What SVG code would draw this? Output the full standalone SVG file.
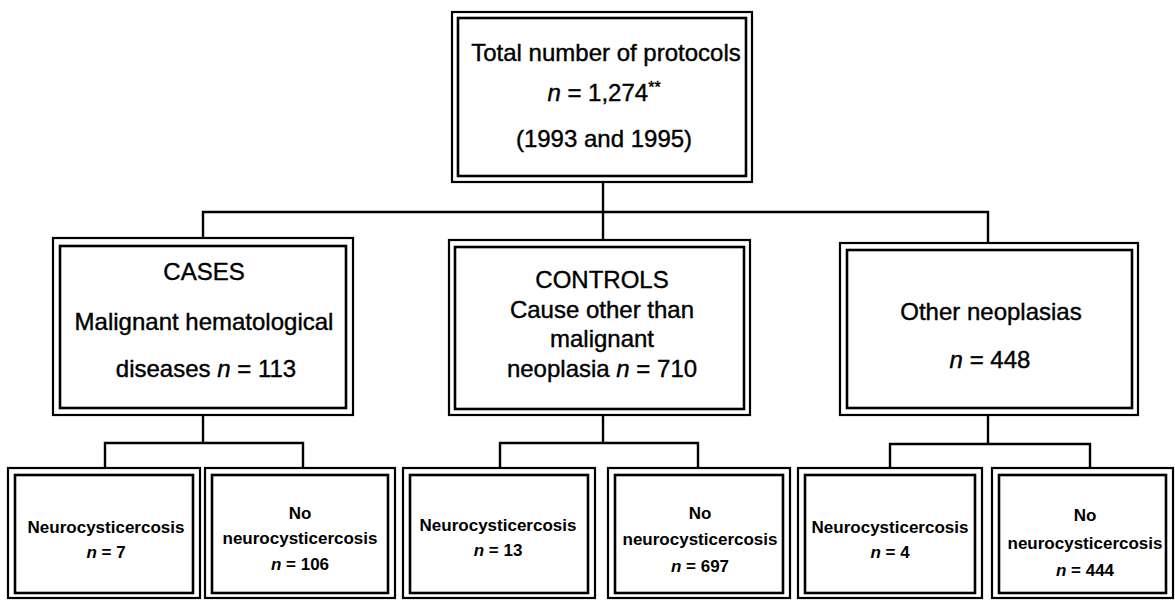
<svg xmlns="http://www.w3.org/2000/svg" width="1175" height="600" viewBox="0 0 1175 600">
<style>
.o{fill:none;stroke:#000;stroke-width:2.2}
.i{fill:none;stroke:#000;stroke-width:2.6}
.c{fill:none;stroke:#000;stroke-width:2.4}
.t{font-family:"Liberation Sans",Arial,sans-serif;font-size:24px;fill:#000;stroke:#000;stroke-width:0.4;text-anchor:middle}
.s{font-family:"Liberation Sans",Arial,sans-serif;font-size:17px;font-weight:bold;fill:#000;text-anchor:middle}
.it{font-style:italic}
</style>
<rect width="1175" height="600" fill="#fff"/>
<g id="connectors">
<polyline class="c" points="603,182 603,212"/>
<polyline class="c" points="203,238 203,212 988,212 988,243"/>
<polyline class="c" points="603,212 603,240"/>
<polyline class="c" points="203,415 203,443"/>
<polyline class="c" points="105,468 105,443 303,443 303,468"/>
<polyline class="c" points="603,415 603,443"/>
<polyline class="c" points="500,468 500,443 698,443 698,468"/>
<polyline class="c" points="988,415 988,444"/>
<polyline class="c" points="890,468 890,444 1090,444 1090,468"/>
</g>
<g id="total">
<rect class="o" x="452" y="12" width="300" height="170"/>
<rect class="i" x="458" y="18" width="288" height="158"/>
<text class="t" x="606" y="61">Total number of protocols</text>
<text class="t" x="604" y="101"><tspan class="it">n</tspan> = 1,274<tspan font-size="16" dy="-8">**</tspan></text>
<text class="t" x="604" y="147">(1993 and 1995)</text>
</g>
<g id="cases">
<rect class="o" x="53" y="238" width="300" height="177"/>
<rect class="i" x="60" y="246" width="286" height="162"/>
<text class="t" x="204" y="280">CASES</text>
<text class="t" x="204" y="330">Malignant hematological</text>
<text class="t" x="206" y="377">diseases <tspan class="it">n</tspan> = 113</text>
</g>
<g id="controls">
<rect class="o" x="449" y="240" width="301" height="175"/>
<rect class="i" x="455" y="247" width="289" height="162"/>
<text class="t" x="602" y="288">CONTROLS</text>
<text class="t" x="602" y="318">Cause other than</text>
<text class="t" x="602" y="347">malignant</text>
<text class="t" x="602" y="377">neoplasia <tspan class="it">n</tspan> = 710</text>
</g>
<g id="other">
<rect class="o" x="840" y="243" width="298" height="172"/>
<rect class="i" x="847" y="250" width="285" height="158"/>
<text class="t" x="991" y="320">Other neoplasias</text>
<text class="t" x="990" y="368"><tspan class="it">n</tspan> = 448</text>
</g>
<g id="cases-ncc">
<rect class="o" x="8" y="468" width="192" height="130"/>
<rect class="i" x="15" y="475" width="178" height="118"/>
<text class="s" x="106" y="533">Neurocysticercosis</text>
<text class="s" x="106" y="558"><tspan class="it">n</tspan> = 7</text>
</g>
<g id="cases-noncc">
<rect class="o" x="205" y="468" width="190" height="130"/>
<rect class="i" x="212" y="475" width="176" height="118"/>
<text class="s" x="300" y="519">No</text>
<text class="s" x="300" y="544">neurocysticercosis</text>
<text class="s" x="300" y="570"><tspan class="it">n</tspan> = 106</text>
</g>
<g id="controls-ncc">
<rect class="o" x="403" y="468" width="192" height="130"/>
<rect class="i" x="410" y="475" width="178" height="118"/>
<text class="s" x="498" y="531">Neurocysticercosis</text>
<text class="s" x="498" y="556"><tspan class="it">n</tspan> = 13</text>
</g>
<g id="controls-noncc">
<rect class="o" x="608" y="468" width="182" height="130"/>
<rect class="i" x="615" y="475" width="168" height="118"/>
<text class="s" x="700" y="519">No</text>
<text class="s" x="700" y="545">neurocysticercosis</text>
<text class="s" x="700" y="572"><tspan class="it">n</tspan> = 697</text>
</g>
<g id="other-ncc">
<rect class="o" x="798" y="468" width="184" height="130"/>
<rect class="i" x="805" y="475" width="170" height="118"/>
<text class="s" x="890" y="533">Neurocysticercosis</text>
<text class="s" x="890" y="558"><tspan class="it">n</tspan> = 4</text>
</g>
<g id="other-noncc">
<rect class="o" x="992" y="468" width="181" height="130"/>
<rect class="i" x="999" y="475" width="167" height="118"/>
<text class="s" x="1085" y="521">No</text>
<text class="s" x="1085" y="549">neurocysticercosis</text>
<text class="s" x="1085" y="576"><tspan class="it">n</tspan> = 444</text>
</g>
</svg>
